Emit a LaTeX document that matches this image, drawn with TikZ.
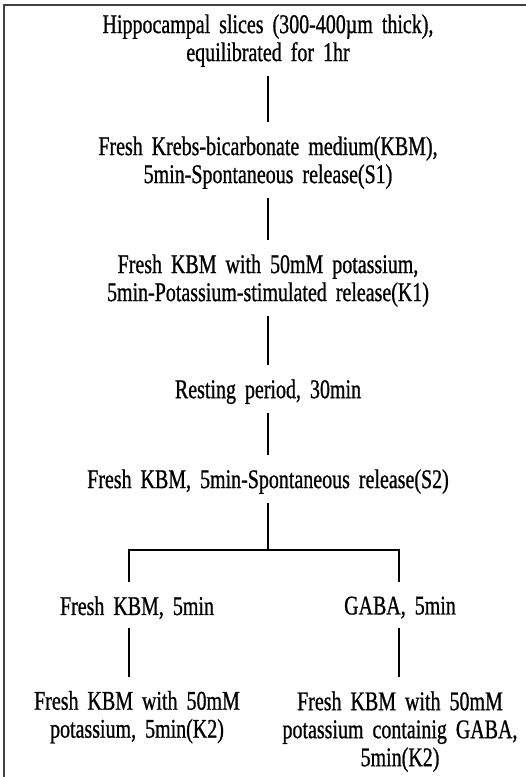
\documentclass[tikz,border=0pt]{standalone}
\usepackage{fontspec}
\setmainfont{Liberation Serif}[FakeStretch=0.74,WordSpace=1.8,FakeBold=0.8]
\usepackage{tikz}
\usetikzlibrary{calc}
\tikzset{
  stage/.style={inner sep=0pt, align=center},
  link/.style={draw=black, line width=1.8pt, shorten <=9pt, shorten >=14pt},
  frame/.style={draw=black!75, line width=1.4pt},
}

\begin{document}
\begin{tikzpicture}[x=1pt,y=-1pt,font=\fontsize{27}{28}\selectfont]
  \useasboundingbox (0,0) rectangle (526,777);
  \draw[frame] (4,777) -- (4,5) -- (526,5);
  \node[stage] (t1) at (268,40.6) {Hippocampal slices (300-400µm thick),\\equilibrated for 1hr};
  \node[stage] (t2) at (268,162.6) {Fresh Krebs-bicarbonate medium(KBM),\\5min-Spontaneous release(S1)};
  \node[stage] (t3) at (268,280.6) {Fresh KBM with 50mM potassium,\\5min-Potassium-stimulated release(K1)};
  \node[stage] (t4) at (268,391.7) {Resting period, 30min};
  \node[stage] (t5) at (268,481.6) {Fresh KBM, 5min-Spontaneous release(S2)};
  \node[stage] (t6l) at (137,607.7) {Fresh KBM, 5min};
  \node[stage] (t6r) at (400,607.6) {GABA, 5min};
  \node[stage] (t7l) at (137,717.2) {Fresh KBM with 50mM\\potassium, 5min(K2)};
  \node[stage] (t7r) at (400,731.7) {Fresh KBM with 50mM\\potassium containig GABA,\\5min(K2)};
  \coordinate (fork) at (268,550);
  \coordinate (bl) at (129,550);
  \coordinate (br) at (399,550);
  \draw[link] (t1) -- (t2);
  \draw[link] (t2) -- (t3);
  \draw[link] (t3) -- (t4);
  \draw[link] (t4) -- (t5);
  \draw[link, shorten >=0pt] (t5) -- (fork);
  \draw[link, shorten <=14pt] (bl |- t6l.north) -- (bl) -- (br) -- (br |- t6r.north);
  \draw[link] (bl |- t6l.south) -- (bl |- t7l.north);
  \draw[link] (br |- t6r.south) -- (br |- t7r.north);
\end{tikzpicture}
\end{document}
